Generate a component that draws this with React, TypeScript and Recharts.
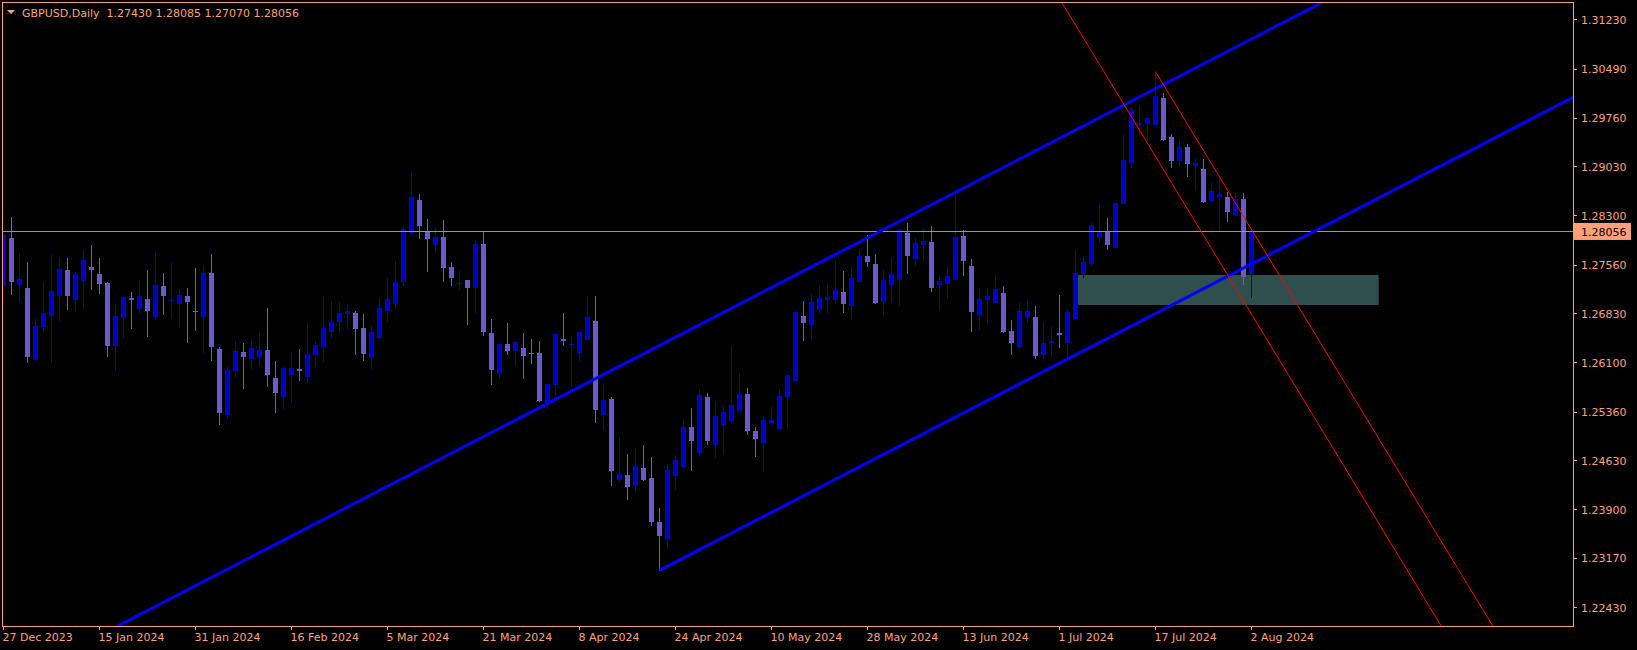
import { ComposedChart, Bar, XAxis, YAxis, ReferenceLine, ReferenceArea } from "recharts";

const SALMON = "#FFA07A";
const BULL = "#0000CD";
const BEAR = "#6A5ACD";
const FONT = "'DejaVu Sans', Verdana, sans-serif";

// GBPUSD daily bars, 27 Dec 2023 .. 2 Aug 2024 (bar index 0..156)
const opens = [
  1.2724, 1.2797, 1.2726, 1.2722, 1.2614, 1.2664, 1.268, 1.271, 1.2749, 1.2704,
  1.2732, 1.2753, 1.2743, 1.2729, 1.2635, 1.2677, 1.2707, 1.269, 1.2705, 1.2679,
  1.2725, 1.2703, 1.2697, 1.271, 1.2687, 1.2679, 1.2744, 1.263, 1.2532, 1.2597,
  1.2626, 1.2615, 1.2619, 1.2629, 1.2587, 1.2559, 1.2592, 1.2601, 1.2588, 1.2622,
  1.2634, 1.2656, 1.2671, 1.2683, 1.2684, 1.2662, 1.2617, 1.2647, 1.2688, 1.2698,
  1.2731, 1.2804, 1.2853, 1.2805, 1.2786, 1.2798, 1.2753, 1.2727, 1.2733, 1.2722,
  1.2788, 1.2654, 1.2593, 1.2638, 1.2627, 1.2632, 1.2624, 1.2624, 1.2549, 1.2577,
  1.2646, 1.2637, 1.2625, 1.2644, 1.2672, 1.2532, 1.2556, 1.2435, 1.2442, 1.2426,
  1.2453, 1.2437, 1.2371, 1.2346, 1.2441, 1.2454, 1.2514, 1.2475, 1.2558, 1.2486,
  1.2516, 1.2523, 1.2538, 1.2563, 1.2508, 1.249, 1.252, 1.2511, 1.2558, 1.2583,
  1.268, 1.2667, 1.2689, 1.2704, 1.2704, 1.2716, 1.2694, 1.2731, 1.277, 1.2758,
  1.2701, 1.2726, 1.2734, 1.2804, 1.2765, 1.2786, 1.2791, 1.2726, 1.2728, 1.2733,
  1.28, 1.2755, 1.2682, 1.2704, 1.2699, 1.2714, 1.2657, 1.2633, 1.2678, 1.2678,
  1.2622, 1.264, 1.2655, 1.264, 1.2676, 1.2742, 1.2758, 1.2796, 1.2807, 1.2781,
  1.2848, 1.2909, 1.2966, 1.2967, 1.2966, 1.3006, 1.2948, 1.2912, 1.2933, 1.2904,
  1.29, 1.2852, 1.2858, 1.2858, 1.2829, 1.2855, 1.2743,
];
const highs = [
  1.2806, 1.2828, 1.2774, 1.2761, 1.2676, 1.2731, 1.2771, 1.2768, 1.2766, 1.2745,
  1.2779, 1.2786, 1.2767, 1.2731, 1.2698, 1.2709, 1.2716, 1.2734, 1.2749, 1.2776,
  1.2744, 1.2759, 1.272, 1.2722, 1.2752, 1.2756, 1.2773, 1.2633, 1.2603, 1.2642,
  1.2639, 1.2644, 1.2656, 1.2692, 1.2612, 1.2603, 1.2626, 1.263, 1.2669, 1.2642,
  1.271, 1.2702, 1.2701, 1.2698, 1.2687, 1.2683, 1.2665, 1.2707, 1.2736, 1.2762,
  1.2814, 1.2896, 1.2862, 1.2825, 1.2812, 1.2824, 1.2761, 1.2747, 1.2734, 1.279,
  1.2805, 1.2675, 1.2638, 1.2669, 1.2642, 1.2655, 1.2645, 1.2642, 1.2578, 1.2653,
  1.2684, 1.265, 1.2656, 1.271, 1.2709, 1.258, 1.2559, 1.2499, 1.2473, 1.2482,
  1.2486, 1.2468, 1.2392, 1.2458, 1.2471, 1.2526, 1.2542, 1.2571, 1.2565, 1.2552,
  1.2545, 1.2635, 1.2594, 1.2572, 1.2513, 1.2527, 1.2543, 1.257, 1.2591, 1.2688,
  1.2702, 1.2712, 1.2726, 1.2728, 1.2762, 1.2747, 1.2753, 1.2779, 1.2801, 1.2773,
  1.2749, 1.2767, 1.2809, 1.2819, 1.2797, 1.281, 1.2815, 1.2739, 1.2753, 1.2861,
  1.2809, 1.2765, 1.2721, 1.2722, 1.2741, 1.2725, 1.2674, 1.2699, 1.2704, 1.2695,
  1.2671, 1.2663, 1.2711, 1.2689, 1.2779, 1.2769, 1.2819, 1.2848, 1.2827, 1.2849,
  1.2951, 1.2993, 1.2996, 1.2978, 1.3046, 1.3014, 1.2952, 1.2943, 1.2937, 1.2915,
  1.2915, 1.2879, 1.2888, 1.2866, 1.2866, 1.2864, 1.28085,
];
const lows = [
  1.2699, 1.2711, 1.27, 1.261, 1.2612, 1.2656, 1.261, 1.2673, 1.2689, 1.2686,
  1.2691, 1.2719, 1.2713, 1.2619, 1.2597, 1.2647, 1.2661, 1.2685, 1.2649, 1.2676,
  1.2682, 1.2676, 1.2662, 1.264, 1.2658, 1.2625, 1.2613, 1.2517, 1.2526, 1.2589,
  1.2571, 1.26, 1.2605, 1.2573, 1.2535, 1.2541, 1.255, 1.2583, 1.2579, 1.2603,
  1.2611, 1.2647, 1.2656, 1.2661, 1.2622, 1.2613, 1.26, 1.2645, 1.2671, 1.2691,
  1.2724, 1.28, 1.2795, 1.2746, 1.2774, 1.2731, 1.2725, 1.2718, 1.2667, 1.2685,
  1.265, 1.2576, 1.2586, 1.2621, 1.2605, 1.2586, 1.2608, 1.2551, 1.254, 1.2562,
  1.2635, 1.2574, 1.2613, 1.2644, 1.252, 1.2509, 1.2426, 1.2432, 1.2404, 1.2417,
  1.2433, 1.2366, 1.2298, 1.2331, 1.242, 1.2452, 1.2448, 1.2471, 1.2486, 1.2467,
  1.2471, 1.2521, 1.2538, 1.2501, 1.2468, 1.2446, 1.2519, 1.2511, 1.251, 1.2583,
  1.2642, 1.2644, 1.2685, 1.2685, 1.27, 1.2684, 1.2674, 1.2731, 1.2753, 1.2698,
  1.268, 1.2699, 1.2694, 1.2743, 1.2755, 1.2762, 1.2716, 1.2687, 1.2705, 1.2733,
  1.2739, 1.2656, 1.2659, 1.2668, 1.2699, 1.2654, 1.2622, 1.2632, 1.2669, 1.2616,
  1.2615, 1.2619, 1.2632, 1.2615, 1.2676, 1.2737, 1.2754, 1.2789, 1.2778, 1.2781,
  1.2848, 1.2902, 1.2951, 1.294, 1.2966, 1.2941, 1.2902, 1.2905, 1.2888, 1.2867,
  1.2849, 1.2852, 1.2807, 1.282, 1.2829, 1.2726, 1.2707,
];
const closes = [
  1.2801, 1.2731, 1.2735, 1.2619, 1.2665, 1.2684, 1.2717, 1.275, 1.271, 1.2743,
  1.2764, 1.2749, 1.2728, 1.2635, 1.268, 1.2708, 1.2703, 1.271, 1.2688, 1.2726,
  1.271, 1.2704, 1.2711, 1.27, 1.2686, 1.2744, 1.2634, 1.2535, 1.2599, 1.2628,
  1.2619, 1.2632, 1.2629, 1.2592, 1.2565, 1.2602, 1.2602, 1.2598, 1.2623, 1.2636,
  1.2662, 1.2671, 1.2684, 1.2687, 1.2661, 1.2623, 1.2656, 1.2692, 1.2705, 1.2731,
  1.281, 1.2858, 1.2814, 1.2795, 1.2798, 1.2752, 1.2736, 1.2729, 1.2721, 1.2788,
  1.2656, 1.2599, 1.2638, 1.2628, 1.2641, 1.262, 1.2623, 1.2552, 1.2578, 1.2653,
  1.2642, 1.2638, 1.2656, 1.2678, 1.2539, 1.2554, 1.2448, 1.2444, 1.2424, 1.2455,
  1.2434, 1.2372, 1.2351, 1.245, 1.2464, 1.2513, 1.2492, 1.2562, 1.2492, 1.253,
  1.2536, 1.2547, 1.2563, 1.2508, 1.2496, 1.2524, 1.2524, 1.256, 1.2591, 1.2686,
  1.267, 1.2701, 1.2707, 1.2708, 1.2719, 1.2698, 1.2737, 1.277, 1.2761, 1.2699,
  1.2734, 1.2743, 1.2808, 1.277, 1.2789, 1.2792, 1.2722, 1.2732, 1.2739, 1.2798,
  1.2762, 1.2686, 1.2705, 1.271, 1.272, 1.2656, 1.264, 1.2687, 1.2687, 1.262,
  1.264, 1.2643, 1.2652, 1.2686, 1.2744, 1.276, 1.2816, 1.2807, 1.2786, 1.2849,
  1.2913, 1.2988, 1.2969, 1.2976, 1.3009, 1.2943, 1.2912, 1.2933, 1.2907, 1.2909,
  1.285, 1.2867, 1.2862, 1.2836, 1.2855, 1.2738, 1.28056,
];

const dateTicks = [0, 12, 24, 36, 48, 60, 72, 84, 96, 108, 120, 132, 144, 156];
const dateLabels = [
  "27 Dec 2023", "15 Jan 2024", "31 Jan 2024", "16 Feb 2024", "5 Mar 2024",
  "21 Mar 2024", "8 Apr 2024", "24 Apr 2024", "10 May 2024", "28 May 2024",
  "13 Jun 2024", "1 Jul 2024", "17 Jul 2024", "2 Aug 2024",
];
const priceTicks = [
  1.2243, 1.2317, 1.239, 1.2463, 1.2536, 1.261, 1.2683, 1.2756, 1.283, 1.2903,
  1.2976, 1.3049, 1.3123,
];

const bid = 1.28056;
const title = "GBPUSD,Daily  1.27430 1.28085 1.27070 1.28056";

// objects drawn on the chart (anchor bar, price, slope per bar)
const channel = { bar: 82, price: 1.2299, slope: 0.00062, width: 0.03366 };
const redChannel = { bar: 144, price: 1.30455, slope: -0.001968, width: 0.01268 };
const zone = { from: 134.3, to: 171.9, low: 1.26962, high: 1.27411 };

const candles = opens.map((o, i) => ({
  bar: i,
  open: o,
  high: highs[i],
  low: lows[i],
  close: closes[i],
}));

const seg = (bar: number, price: number, slope: number, b1: number, b2: number) => [
  { x: b1, y: price + slope * (b1 - bar) },
  { x: b2, y: price + slope * (b2 - bar) },
];

const Candle = (props: any) => {
  let { x, y, width, height, payload } = props;
  if (height < 0) {
    y += height;
    height = -height;
  }
  const { open, close, high, low } = payload;
  const cx = x + width / 2;
  const span = high - low || 1e-9;
  const py = (p: number) => y + ((high - p) / span) * height;
  const color = close >= open ? BULL : BEAR;
  const top = py(Math.max(open, close));
  const bot = py(Math.min(open, close));
  return (
    <g shapeRendering="crispEdges">
      <rect x={cx - 0.5} y={y} width={1} height={Math.max(height, 1)} fill={color} />
      <rect x={cx - 2.5} y={top} width={5} height={Math.max(bot - top, 1)} fill={color} />
    </g>
  );
};

const DateTick = (props: any) => {
  const { x, y, payload } = props;
  const label = dateLabels[dateTicks.indexOf(payload.value)];
  return (
    <g>
      <line x1={x} y1={y} x2={x} y2={y + 4} stroke={SALMON} shapeRendering="crispEdges" />
      <text x={x - 1} y={y + 15} fill={SALMON} fontSize={11} fontFamily={FONT} textAnchor="start">
        {label}
      </text>
    </g>
  );
};

const PriceTick = (props: any) => {
  const { x, y, payload } = props;
  return (
    <g>
      <line x1={x} y1={y} x2={x + 4} y2={y} stroke={SALMON} shapeRendering="crispEdges" />
      <text x={x + 8} y={y + 4} fill={SALMON} fontSize={11} fontFamily={FONT} textAnchor="start">
        {payload.value.toFixed(5)}
      </text>
    </g>
  );
};

const BidLabel = (props: any) => {
  const { viewBox } = props;
  const x = viewBox.x + viewBox.width;
  const y = viewBox.y;
  return (
    <g>
      <rect x={x + 1} y={y - 9} width={57} height={17} fill={SALMON} />
      <text x={x + 8} y={y + 4} fill="#000" fontSize={11} fontFamily={FONT}>
        {bid.toFixed(5)}
      </text>
    </g>
  );
};

export default function App() {
  return (
    <div style={{ position: "relative", width: 1637, height: 650, background: "#000" }}>
      <style>{"body{margin:0;background:#000}"}</style>
      <ComposedChart
        width={1637}
        height={650}
        data={candles}
        margin={{ top: 2, right: 0, bottom: 0, left: 2 }}
      >
        <XAxis
          type="number"
          dataKey="bar"
          domain={[-0.1875, 196.1875]}
          allowDataOverflow
          ticks={dateTicks}
          interval={0}
          tick={<DateTick />}
          tickLine={false}
          axisLine={false}
          tickSize={0}
          tickMargin={0}
          height={24}
        />
        <YAxis
          type="number"
          orientation="right"
          domain={[1.221575, 1.314979]}
          allowDataOverflow
          ticks={priceTicks}
          interval={0}
          tick={<PriceTick />}
          tickLine={false}
          axisLine={false}
          tickSize={0}
          tickMargin={0}
          width={64}
        />
        <ReferenceArea
          x1={zone.from}
          x2={zone.to}
          y1={zone.low}
          y2={zone.high}
          fill="#2F4F4F"
          fillOpacity={1}
          stroke="none"
          ifOverflow="hidden"
        />
        <ReferenceLine
          y={bid}
          stroke="#9299A3"
          strokeWidth={1}
          shapeRendering="crispEdges"
          label={BidLabel}
        />
        <Bar
          dataKey={(d: any) => [d.low, d.high]}
          shape={<Candle />}
          barSize={6}
          isAnimationActive={false}
        />
        <ReferenceLine
          segment={seg(channel.bar, channel.price + channel.width, channel.slope, -30, 240)}
          stroke="#0000FF"
          strokeWidth={3}
          ifOverflow="hidden"
        />
        <ReferenceLine
          segment={seg(channel.bar, channel.price, channel.slope, channel.bar, 240)}
          stroke="#0000FF"
          strokeWidth={3}
          ifOverflow="hidden"
        />
        <ReferenceLine
          segment={seg(redChannel.bar, redChannel.price - redChannel.width, redChannel.slope, 110, 240)}
          stroke="#FF0000"
          strokeWidth={1}
          ifOverflow="hidden"
        />
        <ReferenceLine
          segment={seg(redChannel.bar, redChannel.price, redChannel.slope, redChannel.bar, 240)}
          stroke="#FF0000"
          strokeWidth={1}
          ifOverflow="hidden"
        />
      </ComposedChart>
      <svg
        width={1637}
        height={650}
        style={{ position: "absolute", left: 0, top: 0, pointerEvents: "none" }}
      >
        <rect
          x={2.5}
          y={2.5}
          width={1571}
          height={624}
          fill="none"
          stroke={SALMON}
          shapeRendering="crispEdges"
        />
        <polygon points="7,10 15,10 11,14" fill={SALMON} />
        <text x={22} y={16.5} fill={SALMON} fontSize={11} fontFamily={FONT} style={{ whiteSpace: "pre" }}>
          {title}
        </text>
      </svg>
    </div>
  );
}
